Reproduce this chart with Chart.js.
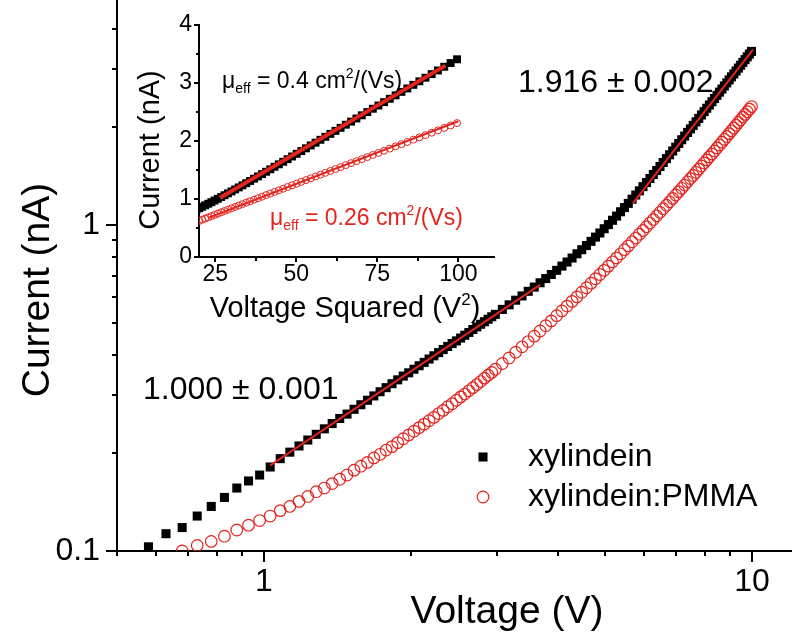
<!DOCTYPE html>
<html>
<head>
<meta charset="utf-8">
<title>Current vs voltage</title>
<script src="https://cdn.jsdelivr.net/npm/chart.js@4.4.1/dist/chart.umd.min.js"></script>
<style>
  html, body { margin: 0; padding: 0; background: #fff; }
  #plot { position: relative; width: 792px; height: 638px; }
  #plot canvas { position: absolute; left: 0; top: 0; }
</style>
</head>
<body>
<div id="plot">
  <canvas id="main" width="792" height="638"></canvas>
  <canvas id="inset" width="792" height="638"></canvas>
</div>
<script>
// applied voltage (V), same sweep for both films
const voltage = [
  0.58, 0.63, 0.68, 0.73, 0.78, 0.83, 0.88, 0.93, 0.98, 1.03, 1.08, 1.13, 1.18, 1.23, 1.28, 1.33, 1.38,
  1.43, 1.48, 1.53, 1.58, 1.63, 1.68, 1.73, 1.78, 1.83, 1.88, 1.93, 1.98, 2.03, 2.08, 2.13, 2.18, 2.23,
  2.28, 2.33, 2.38, 2.43, 2.48, 2.53, 2.58, 2.63, 2.68, 2.73, 2.78, 2.83, 2.88, 2.93, 2.98,
  3.08, 3.18, 3.28, 3.38, 3.48, 3.58, 3.68, 3.78, 3.88, 3.98, 4.08, 4.18, 4.28, 4.38, 4.48, 4.58, 4.68,
  4.78, 4.88, 4.98, 5.08, 5.18, 5.28, 5.38, 5.48, 5.58, 5.68, 5.78, 5.88, 5.98, 6.08, 6.18, 6.28, 6.38,
  6.48, 6.58, 6.68, 6.78, 6.88, 6.98, 7.08, 7.18, 7.28, 7.38, 7.48, 7.58, 7.68, 7.78, 7.88, 7.98, 8.08,
  8.18, 8.28, 8.38, 8.48, 8.58, 8.68, 8.78, 8.88, 8.98, 9.08, 9.18, 9.28, 9.38, 9.48, 9.58, 9.68, 9.78,
  9.88, 9.98
];
// current (nA), xylindein film
const currentXylindein = [
  0.103, 0.113, 0.118, 0.128, 0.137, 0.146, 0.156, 0.164, 0.171, 0.181, 0.192, 0.201, 0.210, 0.219, 0.228, 0.237, 0.246,
  0.255, 0.263, 0.272, 0.281, 0.290, 0.299, 0.308, 0.317, 0.326, 0.335, 0.344, 0.352, 0.361, 0.370, 0.379, 0.388, 0.397,
  0.406, 0.415, 0.424, 0.433, 0.441, 0.450, 0.459, 0.468, 0.478, 0.487, 0.496, 0.505, 0.514, 0.523, 0.532,
  0.551, 0.569, 0.588, 0.606, 0.626, 0.645, 0.665, 0.685, 0.705, 0.726, 0.748, 0.770, 0.792, 0.816, 0.840, 0.865, 0.891,
  0.918, 0.945, 0.974, 1.003, 1.034, 1.065, 1.098, 1.131, 1.165, 1.200, 1.236, 1.273, 1.311, 1.350, 1.389, 1.429, 1.470,
  1.512, 1.555, 1.598, 1.642, 1.687, 1.733, 1.779, 1.826, 1.874, 1.923, 1.971, 2.021, 2.072, 2.123, 2.175, 2.227, 2.281,
  2.334, 2.388, 2.443, 2.499, 2.556, 2.612, 2.670, 2.728, 2.787, 2.847, 2.906, 2.968, 3.029, 3.091, 3.153, 3.216, 3.280,
  3.344, 3.409
];
// current (nA), xylindein:PMMA blend (first two below the axis)
const currentPmma = [
  null, null, 0.100, 0.104, 0.107, 0.111, 0.116, 0.120, 0.124, 0.128, 0.133, 0.137, 0.142, 0.147, 0.152, 0.156, 0.161,
  0.166, 0.171, 0.177, 0.182, 0.187, 0.193, 0.198, 0.204, 0.209, 0.215, 0.221, 0.227, 0.233, 0.239, 0.245, 0.251, 0.257,
  0.264, 0.270, 0.277, 0.283, 0.290, 0.297, 0.303, 0.310, 0.317, 0.324, 0.331, 0.339, 0.346, 0.353, 0.361,
  0.376, 0.391, 0.407, 0.423, 0.439, 0.456, 0.473, 0.491, 0.508, 0.527, 0.545, 0.564, 0.583, 0.602, 0.622, 0.642, 0.663,
  0.684, 0.705, 0.726, 0.748, 0.771, 0.793, 0.816, 0.840, 0.863, 0.888, 0.912, 0.937, 0.962, 0.988, 1.014, 1.040, 1.067,
  1.094, 1.122, 1.150, 1.178, 1.207, 1.236, 1.266, 1.296, 1.326, 1.357, 1.388, 1.419, 1.451, 1.484, 1.517, 1.550, 1.584,
  1.618, 1.652, 1.687, 1.723, 1.759, 1.795, 1.832, 1.869, 1.907, 1.945, 1.984, 2.023, 2.063, 2.102, 2.143, 2.184, 2.225,
  2.267, 2.309
];

// power law fits on the log-log plot (slope 1.000 and 1.916)
const fitOhmicV = [1.03, 3.68];
const fitOhmicI = [0.183, 0.655];
const fitSclcV = [5.7, 10.05];
const fitSclcI = [1.165, 3.45];
// linear fits of the inset, current vs V^2
const insetFitXylV2 = [26.5, 96];
const insetFitXylI = [1.02, 3.30];
const insetFitPmmaV2 = [23, 100];
const insetFitPmmaI = [0.68, 2.34];

const xTickLabels = ['1', '10'];
const yTickLabels = ['0.1', '1'];
const insetXTickLabels = ['25', '50', '75', '100'];
const insetYTickLabels = ['0', '1', '2', '3', '4'];

const FONT = '"Liberation Sans", Arial, Helvetica, sans-serif';
const RED = '#e3241e';
Chart.defaults.font.family = FONT;
Chart.defaults.color = '#000';

function pts(xs, ys, fx) {
  return xs.map((x, i) => ({ x: fx ? fx(x) : x, y: ys[i] })).filter(p => p.y != null);
}

// fixed axis box, and no extra room for the end labels
function fixBox(size, horizontal) {
  return s => {
    if (horizontal) s.height = size; else s.width = size;
    s.paddingTop = 0; s.paddingBottom = 0; s.paddingLeft = 0; s.paddingRight = 0;
  };
}

// tick length on a log axis: long at decades, short at 2..9, none elsewhere
function logTick(major, minor) {
  return v => {
    const lg = Math.log10(v);
    if (Math.abs(lg - Math.round(lg)) < 1e-9) return major;
    const m = v / Math.pow(10, Math.floor(lg + 1e-9));
    return Math.abs(m - Math.round(m)) < 1e-6 ? minor : 0;
  };
}

function tickMarks(id, width, xLen, yLen) {
  return {
    id,
    afterDraw(chart) {
      const ctx = chart.ctx;
      const xs = chart.scales.x, ys = chart.scales.y;
      ctx.save();
      ctx.strokeStyle = '#000';
      ctx.lineWidth = width;
      xs.ticks.forEach(t => {
        const len = xLen(t.value);
        if (!len) return;
        const px = Math.round(xs.getPixelForValue(t.value));
        ctx.beginPath(); ctx.moveTo(px, xs.top); ctx.lineTo(px, xs.top + len); ctx.stroke();
      });
      ys.ticks.forEach(t => {
        const len = yLen(t.value);
        if (!len) return;
        const py = Math.round(ys.getPixelForValue(t.value));
        ctx.beginPath(); ctx.moveTo(ys.right, py); ctx.lineTo(ys.right - len, py); ctx.stroke();
      });
      ctx.restore();
    }
  };
}

// text made of runs: [text, size, dy] for sub/superscripts
function runsWidth(ctx, runs) {
  let w = 0;
  runs.forEach(([t, s]) => { ctx.font = s + 'px ' + FONT; w += ctx.measureText(t).width; });
  return w;
}
function drawRuns(ctx, x, y, runs) {
  runs.forEach(([t, s, dy]) => {
    ctx.font = s + 'px ' + FONT;
    ctx.fillText(t, x, y + dy);
    x += ctx.measureText(t).width;
  });
}

const mainText = {
  id: 'mainText',
  afterDraw(chart) {
    const ctx = chart.ctx;
    ctx.save();
    ctx.fillStyle = '#000';
    ctx.textBaseline = 'middle';
    ctx.textAlign = 'center';
    ctx.font = '39px ' + FONT;
    ctx.fillText('Voltage (V)', 507, 612);
    ctx.save();
    ctx.translate(38, 290);
    ctx.rotate(-Math.PI / 2);
    ctx.fillText('Current (nA)', 0, 0);
    ctx.restore();

    ctx.textAlign = 'left';
    ctx.font = '32px ' + FONT;
    ctx.fillText('1.000 \u00b1 0.001', 143, 390);
    ctx.fillText('1.916 \u00b1 0.002', 518, 83);

    // legend, markers drawn with the library's point routine
    const items = chart.data.datasets.filter(d => d.legendRow !== undefined);
    items.forEach(d => {
      const y = 457 + 40 * d.legendRow;
      ctx.fillStyle = d.pointBackgroundColor;
      ctx.strokeStyle = d.pointBorderColor;
      ctx.lineWidth = d.pointBorderWidth;
      Chart.helpers.drawPoint(ctx, {
        pointStyle: d.pointStyle, radius: d.pointRadius, borderWidth: d.pointBorderWidth, rotation: 0
      }, 483, y);
      ctx.fillStyle = '#000';
      ctx.font = '32px ' + FONT;
      ctx.fillText(d.label, 528, y);
    });
    ctx.restore();
  }
};

const insetText = {
  id: 'insetText',
  afterDraw(chart) {
    const ctx = chart.ctx;
    ctx.save();
    ctx.fillStyle = '#000';
    ctx.textBaseline = 'alphabetic';
    ctx.textAlign = 'left';
    const xt = [['Voltage Squared (V', 29, 0], ['2', 17, -12], [')', 29, 0]];
    drawRuns(ctx, 345 - runsWidth(ctx, xt) / 2, 317, xt);

    ctx.textBaseline = 'middle';
    ctx.textAlign = 'center';
    ctx.font = '29px ' + FONT;
    ctx.save();
    ctx.translate(151, 150);
    ctx.rotate(-Math.PI / 2);
    ctx.fillText('Current (nA)', 0, 0);
    ctx.restore();

    ctx.textAlign = 'left';
    ctx.textBaseline = 'alphabetic';
    drawRuns(ctx, 222, 88, [['\u03bc', 23, 0], ['eff', 14, 5], [' = 0.4 cm', 23, 0], ['2', 14, -10], ['/(Vs)', 23, 0]]);
    ctx.fillStyle = RED;
    drawRuns(ctx, 270, 225, [['\u03bc', 23, 0], ['eff', 14, 5], [' = 0.26 cm', 23, 0], ['2', 14, -10], ['/(Vs)', 23, 0]]);
    ctx.restore();
  }
};

const axisBorder = { display: true, color: '#000', width: 2 };
const noGrid = { display: false, drawTicks: false };

new Chart(document.getElementById('main'), {
  type: 'scatter',
  data: {
    datasets: [
      { label: 'fit 1.000', data: pts(fitOhmicV, fitOhmicI), showLine: true, borderColor: RED,
        borderWidth: 2, pointRadius: 0, order: 0 },
      { label: 'fit 1.916', data: pts(fitSclcV, fitSclcI), showLine: true, borderColor: RED,
        borderWidth: 2, pointRadius: 0, order: 0 },
      { label: 'xylindein:PMMA', legendRow: 1, data: pts(voltage, currentPmma), pointStyle: 'circle',
        pointRadius: 5.8, pointBorderWidth: 1.2, pointBackgroundColor: 'rgba(255,255,255,0)',
        pointBorderColor: RED, order: 1 },
      { label: 'xylindein', legendRow: 0, data: pts(voltage, currentXylindein), pointStyle: 'rect',
        pointRadius: 6.4, pointBorderWidth: 0, pointBackgroundColor: '#000', pointBorderColor: '#000', order: 2 }
    ]
  },
  options: {
    responsive: false,
    animation: false,
    devicePixelRatio: 1,
    events: [],
    layout: { padding: 0, autoPadding: false },
    plugins: { legend: { display: false }, tooltip: { enabled: false } },
    scales: {
      x: {
        type: 'logarithmic', min: 0.5, max: 12.08,
        afterFit: fixBox(87, true),
        grid: noGrid, border: axisBorder,
        ticks: { autoSkip: false, maxRotation: 0, padding: 12, font: { size: 32 }, color: '#000',
          callback: v => xTickLabels.includes(String(v)) ? String(v) : '' }
      },
      y: {
        type: 'logarithmic', min: 0.1, max: 4.9,
        afterFit: fixBox(117, false),
        grid: noGrid, border: axisBorder,
        ticks: { autoSkip: false, padding: 17, font: { size: 32 }, color: '#000',
          callback: v => yTickLabels.includes(String(v)) ? String(v) : '' }
      }
    }
  },
  plugins: [tickMarks('mainTicks', 2, logTick(11, 5), logTick(11, 5)), mainText]
});

const sq = v => +(v * v).toFixed(3);

new Chart(document.getElementById('inset'), {
  type: 'scatter',
  data: {
    datasets: [
      { label: 'fit xylindein', data: pts(insetFitXylV2, insetFitXylI), showLine: true, borderColor: RED,
        borderWidth: 4, pointRadius: 0, order: 0 },
      { label: 'fit PMMA', data: pts(insetFitPmmaV2, insetFitPmmaI), showLine: true, borderColor: RED,
        borderWidth: 2, pointRadius: 0, order: 0 },
      { label: 'xylindein:PMMA', data: pts(voltage, currentPmma, sq).filter(p => p.x > 18), pointStyle: 'circle',
        pointRadius: 3.5, pointBorderWidth: 1, pointBackgroundColor: 'rgba(255,255,255,0)',
        pointBorderColor: RED, order: 1 },
      { label: 'xylindein', data: pts(voltage, currentXylindein, sq).filter(p => p.x > 18), pointStyle: 'rect',
        pointRadius: 5.6, pointBorderWidth: 0, pointBackgroundColor: '#000', pointBorderColor: '#000', order: 2 }
    ]
  },
  options: {
    responsive: false,
    animation: false,
    devicePixelRatio: 1,
    events: [],
    layout: { padding: { left: 139, top: 25, right: 298, bottom: 321 }, autoPadding: false },
    plugins: { legend: { display: false }, tooltip: { enabled: false } },
    scales: {
      x: {
        type: 'linear', min: 20, max: 111,
        afterFit: fixBox(60, true),
        grid: noGrid, border: axisBorder,
        ticks: { stepSize: 12.5, includeBounds: false, autoSkip: false, maxRotation: 0, padding: 4,
          font: { size: 23 }, color: '#000',
          callback: v => insetXTickLabels.includes(String(v)) ? String(v) : '' }
      },
      y: {
        type: 'linear', min: 0, max: 4,
        afterFit: fixBox(60, false),
        grid: noGrid, border: axisBorder,
        ticks: { stepSize: 0.5, autoSkip: false, padding: 7, font: { size: 23 }, color: '#000',
          callback: v => insetYTickLabels.includes(String(v)) ? String(v) : '' }
      }
    }
  },
  plugins: [
    tickMarks('insetTicks', 2, v => (v % 25 === 0 ? 5 : (v % 12.5 === 0 ? 4 : 0)),
      v => (Number.isInteger(v) ? 5 : 3)),
    insetText
  ]
});
</script>
</body>
</html>
